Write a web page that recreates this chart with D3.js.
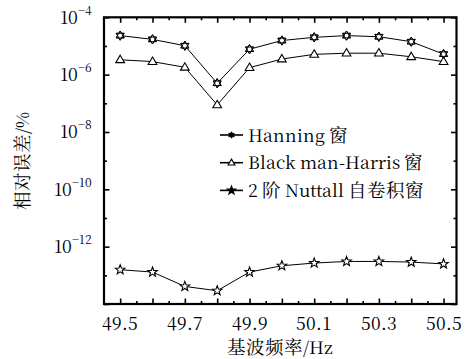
<!DOCTYPE html>
<html>
<head>
<meta charset="utf-8">
<script src="https://cdn.jsdelivr.net/npm/d3@7"></script>
<style>
  @font-face { font-family: "ChartSong"; src: local("Noto Serif CJK SC"), local("NotoSerifCJKsc-Regular"), local("Noto Serif CJK SC Regular"); }
</style>
</head>
<body style="margin:0">
<svg id="chart" width="465" height="359" style="display:block;background:#fff"></svg>
<script>
// Fundamental frequency (Hz) and relative error (%) for each window
const freqs = [49.5, 49.6, 49.7, 49.8, 49.9, 50.0, 50.1, 50.2, 50.3, 50.4, 50.5];
const hanning = [2.3e-5, 1.7e-5, 1.02e-5, 5.0e-7, 7.7e-6, 1.55e-5, 2.0e-5, 2.3e-5, 2.1e-5, 1.41e-5, 5.2e-6];
const blackmanHarris = [3.3e-6, 2.85e-6, 1.8e-6, 8.8e-8, 1.75e-6, 3.5e-6, 5.1e-6, 5.6e-6, 5.6e-6, 4.2e-6, 2.85e-6];
const nuttall = [1.57e-13, 1.3e-13, 4.1e-14, 2.9e-14, 1.3e-13, 2.16e-13, 2.68e-13, 3.05e-13, 3.05e-13, 2.9e-13, 2.5e-13];

const seriesNames = ["Hanning 窗", "Black man-Harris 窗", "2 阶 Nuttall 自卷积窗"];
const xTickLabels = [49.5, 49.7, 49.9, 50.1, 50.3, 50.5];
const xMajorTicks = [49.5, 49.6, 49.7, 49.8, 49.9, 50.0, 50.1, 50.2, 50.3, 50.4, 50.5];
const xMinorTicks = [49.55, 49.65, 49.75, 49.85, 49.95, 50.05, 50.15, 50.25, 50.35, 50.45];
const yMajorExps = [-4, -6, -8, -10, -12, -14];
const yMinorExps = [-5, -7, -9, -11, -13];
const yLabelExps = [-4, -6, -8, -10, -12];
const xTitle = "基波频率/Hz";
const yTitle = "相对误差/%";

const W = 465, H = 359;
const m = { left: 104, right: 8.5, top: 17.3, bottom: 55 };
const LATIN = "ChartSong, 'Noto Serif CJK SC', serif";
const CJK = "ChartSong, 'Noto Serif CJK SC', serif";
const LATIN_SIZE = 17.5;

const svg = d3.select("#chart");

const x = d3.scaleLinear().domain([49.45, 50.54]).range([m.left, W - m.right]);
const y = d3.scaleLog().domain([1e-14, 1e-4]).range([H - m.bottom, m.top]);

const plotL = m.left, plotR = W - m.right, plotT = m.top, plotB = H - m.bottom;

function setFace(sel, face) {
  sel.attr("font-family", face).style("font-family", face, "important");
  return sel;
}

// Mixed Latin / CJK text: each run gets its own face and size
function mixedText(sel, str) {
  const runs = str.match(/[\u3400-\u9fff]+|[^\u3400-\u9fff]+/g) || [];
  runs.forEach(r => {
    const cjk = /[\u3400-\u9fff]/.test(r);
    setFace(sel.append("tspan"), cjk ? CJK : LATIN)
      .attr("font-size", cjk ? 18.5 : LATIN_SIZE)
      .text(r);
  });
}

// Inward ticks on all four sides
function tickAxis(axisFn, scale, values, size, transform) {
  const g = svg.append("g")
    .attr("transform", transform)
    .call(axisFn(scale).tickValues(values).tickSize(size).tickFormat(""));
  g.select(".domain").remove();
  g.selectAll(".tick line").attr("stroke", "#000").attr("stroke-width", 1.6);
  return g;
}
tickAxis(d3.axisBottom, x, xMajorTicks, -5.5, `translate(0,${plotB})`);
tickAxis(d3.axisBottom, x, xMinorTicks, -3, `translate(0,${plotB})`);
tickAxis(d3.axisTop, x, xMajorTicks, -5.5, `translate(0,${plotT})`);
tickAxis(d3.axisTop, x, xMinorTicks, -3, `translate(0,${plotT})`);
const yMaj = yMajorExps.map(e => Math.pow(10, e));
const yMin = yMinorExps.map(e => Math.pow(10, e));
tickAxis(d3.axisLeft, y, yMaj, -5.5, `translate(${plotL},0)`);
tickAxis(d3.axisLeft, y, yMin, -3, `translate(${plotL},0)`);
tickAxis(d3.axisRight, y, yMaj, -5.5, `translate(${plotR},0)`);
tickAxis(d3.axisRight, y, yMin, -3, `translate(${plotR},0)`);

// Frame
svg.append("rect")
  .attr("x", plotL).attr("y", plotT)
  .attr("width", plotR - plotL).attr("height", plotB - plotT)
  .attr("fill", "none").attr("stroke", "#000").attr("stroke-width", 2.2);

// X tick labels
const xl = svg.append("g").selectAll("text").data(xTickLabels).join("text")
  .attr("x", d => x(d)).attr("y", plotB + 26)
  .attr("text-anchor", "middle")
  .attr("font-size", LATIN_SIZE).attr("fill", "#000");
setFace(xl.append("tspan"), LATIN).text(d => d.toFixed(1));

// Y tick labels as powers of ten
const yl = svg.append("g").selectAll("text").data(yLabelExps).join("text")
  .attr("x", 92).attr("y", d => y(Math.pow(10, d)) + 6.5)
  .attr("text-anchor", "end")
  .attr("font-size", LATIN_SIZE).attr("fill", "#000");
setFace(yl.append("tspan"), LATIN).text("10");
setFace(yl.append("tspan"), LATIN).attr("dy", -9).attr("font-size", 12).text(d => "\u2212" + Math.abs(d));

// Axis titles
const xt = svg.append("text")
  .attr("x", (plotL + plotR) / 2).attr("y", 354)
  .attr("text-anchor", "middle")
  .attr("fill", "#000");
mixedText(xt, xTitle);
const yt = svg.append("text")
  .attr("transform", `translate(29,${(plotT + plotB) / 2}) rotate(-90)`)
  .attr("text-anchor", "middle")
  .attr("fill", "#000");
mixedText(yt, yTitle);

// Marker shapes
function polyPath(pts) { return "M" + pts.map(p => p.join(",")).join("L") + "Z"; }
function triPath(r, up) {
  const s = up ? -1 : 1;
  return polyPath([0, 1, 2].map(i => {
    const a = (i * 120) * Math.PI / 180;
    return [r * Math.sin(a), s * r * Math.cos(a)];
  }));
}
function starPath(ro, ri, n) {
  const pts = [];
  for (let i = 0; i < 2 * n; i++) {
    const r = i % 2 === 0 ? ro : ri;
    const a = i * Math.PI / n;
    pts.push([r * Math.sin(a), -r * Math.cos(a)]);
  }
  return polyPath(pts);
}
function drawHexagram(g, r, filled) {
  g.append("path").attr("d", starPath(r, r / Math.sqrt(3), 6))
    .attr("fill", filled ? "#000" : "#fff").attr("stroke", "#000").attr("stroke-width", 1);
  if (!filled) {
    g.append("path").attr("d", triPath(r, true)).attr("fill", "none").attr("stroke", "#000").attr("stroke-width", 0.9);
    g.append("path").attr("d", triPath(r, false)).attr("fill", "none").attr("stroke", "#000").attr("stroke-width", 0.9);
  }
}
function drawTriangle(g, r) {
  g.append("path").attr("d", polyPath([[0, -r], [r * 0.95, r * 0.62], [-r * 0.95, r * 0.62]]))
    .attr("fill", "#fff").attr("stroke", "#000").attr("stroke-width", 1.1);
}
function drawStar(g, r, filled) {
  g.append("path").attr("d", starPath(r, r * 0.42, 5))
    .attr("fill", filled ? "#000" : "#fff").attr("stroke", "#000").attr("stroke-width", 1.1);
}

const series = [
  { values: hanning, draw: (g) => drawHexagram(g, 4.6, false), legend: (g) => drawHexagram(g, 3.2, true) },
  { values: blackmanHarris, draw: (g) => drawTriangle(g, 4.6), legend: (g) => drawTriangle(g, 3.6) },
  { values: nuttall, draw: (g) => drawStar(g, 5, false), legend: (g) => drawStar(g, 4.4, true) }
];

const line = d3.line().x(d => x(d[0])).y(d => y(d[1]));

series.forEach(s => {
  const pts = freqs.map((f, i) => [f, s.values[i]]);
  svg.append("path").datum(pts).attr("d", line)
    .attr("fill", "none").attr("stroke", "#000").attr("stroke-width", 1);
  pts.forEach(p => {
    const g = svg.append("g").attr("transform", `translate(${x(p[0])},${y(p[1])})`);
    s.draw(g);
  });
});

// Legend
const lg = svg.append("g");
series.forEach((s, i) => {
  const cy = 135 + i * 27.7;
  lg.append("line").attr("x1", 220).attr("x2", 243).attr("y1", cy).attr("y2", cy)
    .attr("stroke", "#000").attr("stroke-width", 1.6);
  const g = lg.append("g").attr("transform", `translate(231.5,${cy})`);
  s.legend(g);
  const t = lg.append("text").attr("x", 248).attr("y", cy + 6.5)
    .attr("fill", "#000");
  mixedText(t, seriesNames[i]);
});
</script>
</body>
</html>
